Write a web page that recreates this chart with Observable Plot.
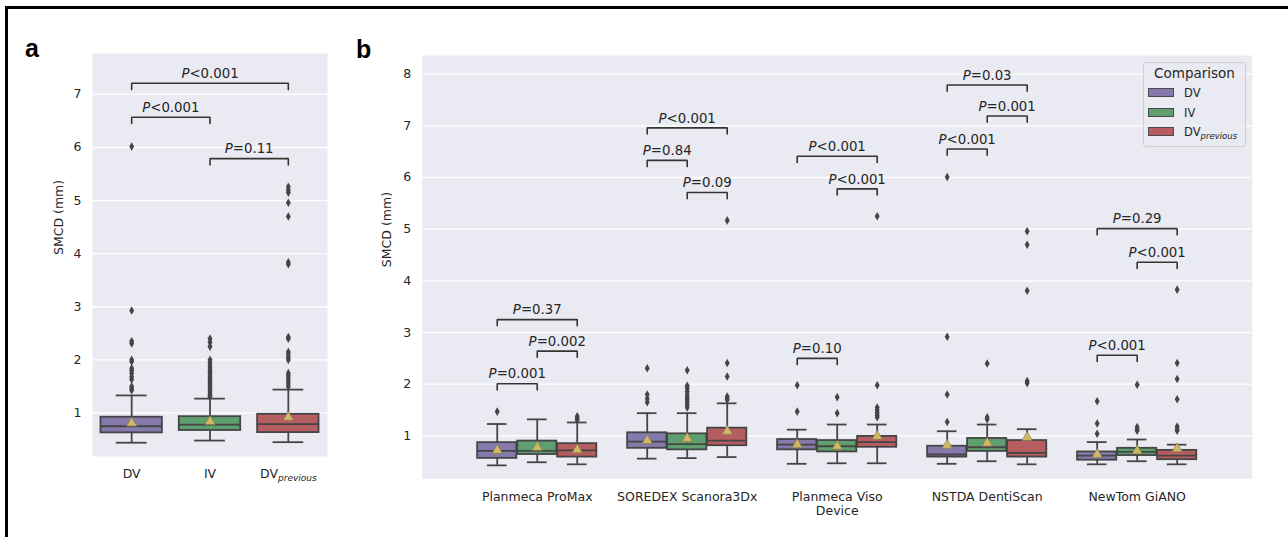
<!DOCTYPE html>
<html>
<head>
<meta charset="utf-8">
<script src="https://cdn.jsdelivr.net/npm/d3@7"></script>
<script src="https://cdn.jsdelivr.net/npm/@observablehq/plot@0.6"></script>
<style>
  html, body { margin: 0; padding: 0; background: #fff; }
  #fig { position: relative; width: 1288px; height: 537px; overflow: hidden; background: #fff; font-family: "DejaVu Sans", sans-serif; }
  .bt { position: absolute; left: 5px; top: 6px; width: 1283px; height: 2.5px; background: #000; }
  .bl { position: absolute; left: 5px; top: 6px; width: 2.5px; height: 531px; background: #000; }
  .letter { position: absolute; font-family: "Liberation Sans", Arial, sans-serif; font-weight: bold; font-size: 25px; line-height: 25px; color: #000; }
  #pa { position: absolute; left: 0; top: 0; }
  #pb { position: absolute; left: 340px; top: 0; }
  #legend { position: absolute; left: 1143px; top: 62px; width: 103px; height: 85px; box-sizing: border-box;
            background: rgba(234,234,242,0.8); border: 1px solid #cfcfd6; border-radius: 3px; color: #262626; }
  #legend .ttl { position: absolute; left: 0; width: 101px; top: 1px; text-align: center; font-size: 13.5px; line-height: 18px; }
  #legend .item { position: absolute; left: 3px; height: 18px; width: 98px; }
  #legend .patch { position: absolute; left: 1px; top: 4px; width: 26px; height: 9px; box-sizing: border-box; border: 1px solid #4a4a4a; }
  #legend .lab { position: absolute; left: 37px; top: 0; font-size: 11.5px; line-height: 18px; white-space: nowrap; }
  #legend .lab i { font-size: 8.5px; position: relative; top: 3px; }
</style>
</head>
<body>
<div id="fig">
  <div class="bt"></div>
  <div class="bl"></div>
  <div id="pa"></div>
  <div id="pb"></div>
  <div class="letter" style="left:25px;top:36px;">a</div>
  <div class="letter" style="left:356px;top:37px;">b</div>
  <div id="legend"></div>
</div>
<script>
// ---------- data ----------
const comparisons = ["DV", "IV", "DVprevious"];
const compColors = ["#857aab", "#5f9e6e", "#b55d60"];
const devices = ["Planmeca ProMax", "SOREDEX Scanora3Dx", "Planmeca Viso", "NSTDA DentiScan", "NewTom GiANO"];
const yTicksA = [1, 2, 3, 4, 5, 6, 7];
const yTicksB = [1, 2, 3, 4, 5, 6, 7, 8];

// box summaries: [lower whisker, Q1, median, Q3, upper whisker, mean]
const overallStats = [
  [0.44, 0.625, 0.75, 0.92, 1.33, 0.81],
  [0.48, 0.67, 0.78, 0.93, 1.27, 0.84],
  [0.45, 0.63, 0.79, 0.975, 1.44, 0.92]
];
const overallOutliers = [
  [1.43, 1.46, 1.50, 1.63, 1.68, 1.75, 1.80, 1.84, 1.97, 2.00, 2.31, 2.35, 2.93, 6.02],
  [1.30, 1.33, 1.36, 1.40, 1.44, 1.48, 1.52, 1.56, 1.60, 1.64, 1.68, 1.72, 1.76, 1.80, 1.85, 1.90, 1.95, 2.00, 2.25, 2.33, 2.40],
  [1.50, 1.55, 1.60, 1.65, 1.70, 1.75, 2.00, 2.05, 2.10, 2.15, 2.40, 2.43, 3.80, 3.84, 4.70, 4.96, 5.15, 5.20, 5.26]
];

// per device (order of `devices`)
const statsDV = [
  [0.43, 0.565, 0.71, 0.87, 1.23, 0.72],
  [0.56, 0.76, 0.89, 1.06, 1.44, 0.91],
  [0.46, 0.73, 0.83, 0.93, 1.12, 0.83],
  [0.46, 0.59, 0.64, 0.80, 1.09, 0.82],
  [0.45, 0.53, 0.62, 0.69, 0.88, 0.64]
];
const statsIV = [
  [0.49, 0.64, 0.71, 0.90, 1.32, 0.78],
  [0.57, 0.73, 0.84, 1.04, 1.44, 0.95],
  [0.47, 0.69, 0.80, 0.91, 1.22, 0.80],
  [0.51, 0.70, 0.78, 0.95, 1.22, 0.86],
  [0.51, 0.62, 0.69, 0.76, 0.93, 0.71]
];
const statsDVprev = [
  [0.45, 0.59, 0.72, 0.85, 1.26, 0.73],
  [0.59, 0.81, 0.91, 1.15, 1.63, 1.09],
  [0.47, 0.78, 0.88, 0.99, 1.22, 0.99],
  [0.45, 0.59, 0.67, 0.91, 1.13, 0.97],
  [0.45, 0.54, 0.62, 0.72, 0.83, 0.75]
];
const outliersDV = [
  [1.47],
  [1.65, 1.72, 1.80, 2.31],
  [1.47, 1.98],
  [1.27, 1.80, 2.92, 6.01],
  [1.04, 1.24, 1.67]
];
const outliersIV = [
  [],
  [1.55, 1.60, 1.65, 1.70, 1.75, 1.80, 1.86, 1.92, 1.97, 2.27],
  [1.44, 1.75],
  [1.32, 1.36, 2.40],
  [1.10, 1.13, 1.17, 1.99]
];
const outliersDVprev = [
  [1.31, 1.34, 1.38],
  [1.70, 1.73, 1.76, 2.15, 2.41, 5.17],
  [1.36, 1.40, 1.45, 1.50, 1.55, 1.98, 5.25],
  [2.02, 2.06, 3.81, 4.70, 4.96],
  [1.10, 1.13, 1.18, 1.71, 2.10, 2.41, 3.83]
];

// significance brackets: [from comparison, to comparison, height, label]
const bracketsA = [
  [0, 2, 7.21, "P<0.001"],
  [0, 1, 6.57, "P<0.001"],
  [1, 2, 5.79, "P=0.11"]
];
// [device, from, to, height, label]
const bracketsB = [
  [0, 0, 2, 3.25, "P=0.37"], [0, 1, 2, 2.64, "P=0.002"], [0, 0, 1, 2.01, "P=0.001"],
  [1, 0, 2, 6.96, "P<0.001"], [1, 0, 1, 6.33, "P=0.84"], [1, 1, 2, 5.71, "P=0.09"],
  [2, 0, 2, 6.41, "P<0.001"], [2, 1, 2, 5.78, "P<0.001"], [2, 0, 1, 2.50, "P=0.10"],
  [3, 0, 2, 7.79, "P=0.03"], [3, 1, 2, 7.19, "P=0.001"], [3, 0, 1, 6.55, "P<0.001"],
  [4, 0, 2, 5.01, "P=0.29"], [4, 1, 2, 4.36, "P<0.001"], [4, 0, 1, 2.56, "P<0.001"]
];

// ---------- build tables ----------
const GRAY = "#454545";
const LW = 1.8;
const TICK = 0.12;
const HUE = 0.8 / 3;

function toRow(s, x, w, comp) {
  return {x, w, comp, lw: s[0], q1: s[1], med: s[2], q3: s[3], uw: s[4], mean: s[5]};
}
const rowsA = overallStats.map((s, i) => toRow(s, i, 0.8 * 0.98, i));
const outA = overallOutliers.flatMap((arr, i) => arr.map(v => ({x: i, v})));

const statsByComp = [statsDV, statsIV, statsDVprev];
const outByComp = [outliersDV, outliersIV, outliersDVprev];
const rowsB = [];
const outB = [];
devices.forEach((d, g) => {
  statsByComp.forEach((arr, c) => {
    const x = g + (c - 1) * HUE;
    rowsB.push(toRow(arr[g], x, HUE * 0.98, c));
    outByComp[c][g].forEach(v => outB.push({x, v}));
  });
});

const brA = bracketsA.map(([a, b, h, label]) => ({x1: a, x2: b, h, label}));
const brB = bracketsB.map(([g, a, b, h, label]) => ({x1: g + (a - 1) * HUE, x2: g + (b - 1) * HUE, h, label}));

function boxMarks(rows, outs) {
  const m = [];
  m.push(Plot.ruleX(rows, {x: "x", y1: "lw", y2: "q1", stroke: GRAY, strokeWidth: LW}));
  m.push(Plot.ruleX(rows, {x: "x", y1: "q3", y2: "uw", stroke: GRAY, strokeWidth: LW}));
  m.push(Plot.ruleY(rows, {y: "lw", x1: d => d.x - d.w / 4, x2: d => d.x + d.w / 4, stroke: GRAY, strokeWidth: LW}));
  m.push(Plot.ruleY(rows, {y: "uw", x1: d => d.x - d.w / 4, x2: d => d.x + d.w / 4, stroke: GRAY, strokeWidth: LW}));
  comparisons.forEach((c, i) => {
    m.push(Plot.rect(rows.filter(r => r.comp === i), {
      x1: d => d.x - d.w / 2, x2: d => d.x + d.w / 2, y1: "q1", y2: "q3",
      fill: compColors[i], stroke: GRAY, strokeWidth: LW
    }));
  });
  m.push(Plot.ruleY(rows, {y: "med", x1: d => d.x - d.w / 2, x2: d => d.x + d.w / 2, stroke: GRAY, strokeWidth: LW}));
  m.push(Plot.dot(rows, {x: "x", y: "mean", symbol: "triangle", r: 3.8, fill: "#d3b866", stroke: "#8a7d50", strokeWidth: 0.7}));
  m.push(Plot.dot(outs, {x: "x", y: "v", symbol: "diamond", r: 2.6, fill: GRAY, stroke: "none"}));
  return m;
}

function bracketMarks(br) {
  const pts = br.flatMap((b, i) => [
    {x: b.x1, y: b.h - TICK, z: i}, {x: b.x1, y: b.h, z: i},
    {x: b.x2, y: b.h, z: i}, {x: b.x2, y: b.h - TICK, z: i}
  ]);
  return [
    Plot.line(pts, {x: "x", y: "y", z: "z", stroke: "#353535", strokeWidth: 1.6, strokeLinejoin: "miter"}),
    Plot.text(br, {x: d => (d.x1 + d.x2) / 2, y: "h", text: "label", dy: -9.5, fontSize: 13.3, fill: "#262626"})
  ];
}

const baseStyle = {background: "transparent", fontFamily: "DejaVu Sans, sans-serif", fontSize: "12.5px", color: "#262626", overflow: "visible"};

const plotA = Plot.plot({
  width: 340, height: 537,
  marginLeft: 92, marginRight: 13, marginTop: 53, marginBottom: 81,
  style: baseStyle,
  x: {domain: [-0.5, 2.5], ticks: [0, 1, 2], tickFormat: i => comparisons[i], tickSize: 0, tickPadding: 13, label: null},
  y: {domain: [0.18, 7.77], ticks: yTicksA, tickSize: 0, tickPadding: 11, label: null},
  marks: [
    Plot.frame({fill: "#eaeaf2", stroke: "none"}),
    Plot.ruleY(yTicksA, {stroke: "#ffffff", strokeWidth: 1.3}),
    ...boxMarks(rowsA, outA),
    ...bracketMarks(brA),
    Plot.text(["SMCD (mm)"], {frameAnchor: "left", text: d => d, rotate: -90, dx: -34, fontSize: 12.5, fill: "#262626"})
  ]
});

const plotB = Plot.plot({
  width: 948, height: 537,
  marginLeft: 81.7, marginRight: 36.3, marginTop: 55, marginBottom: 58.7,
  style: baseStyle,
  x: {domain: [-0.767, 4.767], ticks: [0, 1, 2, 3, 4], tickFormat: i => devices[i], tickSize: 0, tickPadding: 13, label: null},
  y: {domain: [0.17, 8.36], ticks: yTicksB, tickSize: 0, tickPadding: 11, label: null},
  marks: [
    Plot.frame({fill: "#eaeaf2", stroke: "none"}),
    Plot.ruleY(yTicksB, {stroke: "#ffffff", strokeWidth: 1.3}),
    ...boxMarks(rowsB, outB),
    ...bracketMarks(brB),
    Plot.text(["SMCD (mm)"], {frameAnchor: "left", text: d => d, rotate: -90, dx: -35, fontSize: 12.5, fill: "#262626"}),
    Plot.text(["Device"], {frameAnchor: "bottom", text: d => d, dy: 36, fontSize: 12.5, fill: "#262626"})
  ]
});

const SVGNS = "http://www.w3.org/2000/svg";
function styleTexts(svg) {
  svg.querySelectorAll("text").forEach(t => {
    const s = t.textContent;
    if (/^P[<=]/.test(s)) {
      t.textContent = "";
      const it = document.createElementNS(SVGNS, "tspan");
      it.setAttribute("font-style", "italic");
      it.textContent = "P";
      t.appendChild(it);
      t.appendChild(document.createTextNode(s.slice(1)));
    } else if (s === "DVprevious") {
      t.textContent = "DV";
      const sub = document.createElementNS(SVGNS, "tspan");
      sub.setAttribute("font-style", "italic");
      sub.setAttribute("font-size", "9px");
      sub.setAttribute("dy", "0.3em");
      sub.textContent = "previous";
      t.appendChild(sub);
    }
  });
}
styleTexts(plotA);
styleTexts(plotB);
document.getElementById("pa").appendChild(plotA);
document.getElementById("pb").appendChild(plotB);

// legend
const legend = document.getElementById("legend");
const ttl = document.createElement("div");
ttl.className = "ttl";
ttl.textContent = "Comparison";
legend.appendChild(ttl);
comparisons.forEach((c, i) => {
  const item = document.createElement("div");
  item.className = "item";
  item.style.top = (21 + i * 19.5) + "px";
  const p = document.createElement("div");
  p.className = "patch";
  p.style.background = compColors[i];
  const lab = document.createElement("div");
  lab.className = "lab";
  if (c === "DVprevious") lab.innerHTML = "DV<i>previous</i>";
  else lab.textContent = c;
  item.appendChild(p);
  item.appendChild(lab);
  legend.appendChild(item);
});
</script>
</body>
</html>
